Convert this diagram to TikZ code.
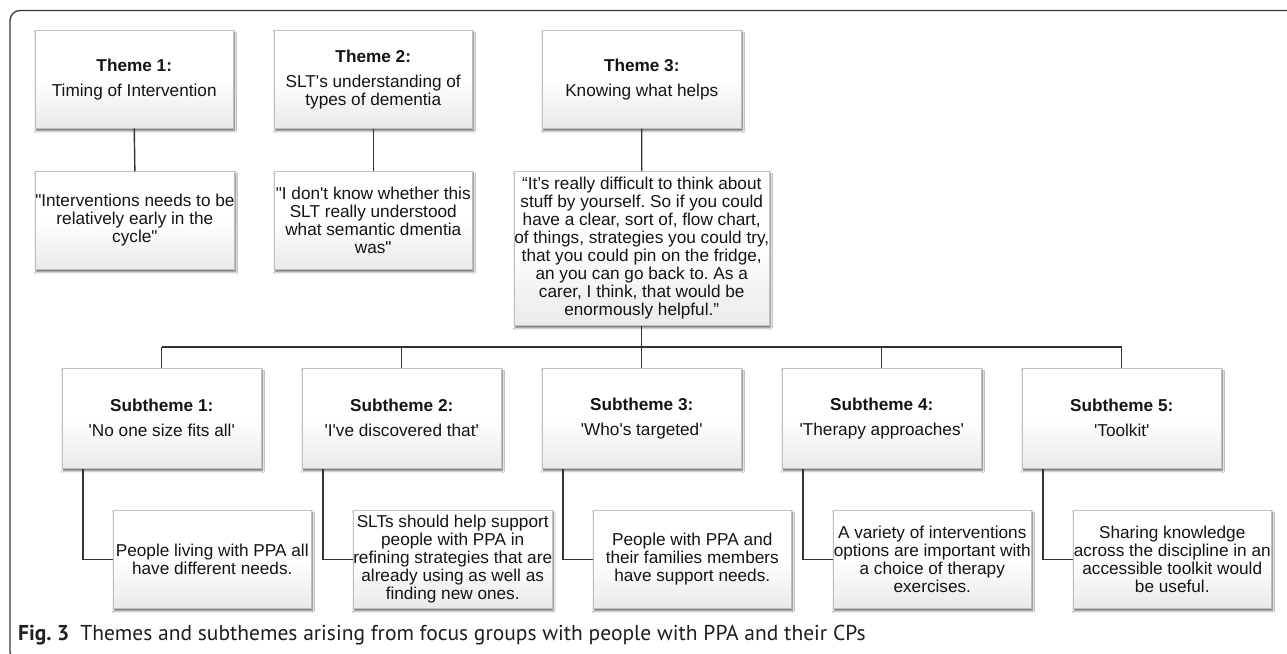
\documentclass[tikz,border=0pt]{standalone}
\usepackage{fontspec}
\setmainfont{Liberation Sans}[Ligatures=TeXOff]
\newfontfamily\capfont{PT Sans}
\usetikzlibrary{shadows.blur}
\frenchspacing
\pgfdeclareverticalshading{boxshade}{100bp}{color(0bp)=(black!17); color(50bp)=(white); color(100bp)=(white)}
\tikzset{
  box/.style={draw=black!25, line width=0.5pt, shade, shading=boxshade,
    inner sep=0pt, align=center, anchor=north west, text=black!92,
    font=\fontsize{17.2}{18}\selectfont,
    blur shadow={shadow xshift=1pt, shadow yshift=-2.5pt, shadow blur steps=6, shadow opacity=60}},
  themebox/.style={box, minimum width=198pt, minimum height=98pt},
  subbox/.style={box, minimum width=199pt, minimum height=100pt},
  conn/.style={draw=black!80, line width=1.4pt},
  frame/.style={draw=black!78, line width=1.3pt, rounded corners=10pt},
}
\begin{document}
\begin{tikzpicture}[x=1pt, y=-1pt]
\useasboundingbox (0,0) rectangle (1287,653);
\fill[white] (0,0) rectangle (1287,653);
\draw[frame] (1300,662) -- (10,662) -- (10,10.5) -- (1300,10.5);

% themes
\node[themebox] (t1) at (35,30) {\textbf{Theme 1:}\\[7pt]Timing of Intervention};
\node[themebox] (t2) at (274,30) {\textbf{Theme 2:}\\[7pt]SLT's understanding of\\types of dementia};
\node[themebox, minimum width=199pt] (t3) at (542,30) {\textbf{Theme 3:}\\[7pt]Knowing what helps};

% quotes
\node[themebox] (q1) at (35,171) {"Interventions needs to be\\relatively early in the\\cycle"};
\node[themebox] (q2) at (274,171) {"I don't know whether this\\SLT really understood\\what semantic dmentia\\was"};
\node[box, minimum width=254pt, minimum height=154pt] (q3) at (514,171) {“It’s really difficult to think about\\stuff by yourself. So if you could\\have a clear, sort of, flow chart,\\of things, strategies you could try,\\that you could pin on the fridge,\\an you can go back to. As a\\carer, I think, that would be\\enormously helpful.”};

% subthemes
\node[subbox] (s1) at (62,368) {\textbf{Subtheme 1:}\\[7pt]'No one size fits all'};
\node[subbox] (s2) at (302,368) {\textbf{Subtheme 2:}\\[7pt]'I've discovered that'};
\node[subbox] (s3) at (542,368) {\textbf{Subtheme 3:}\\[7pt]'Who's targeted'};
\node[subbox] (s4) at (782,368) {\textbf{Subtheme 4:}\\[7pt]'Therapy approaches'};
\node[subbox] (s5) at (1022,368) {\textbf{Subtheme 5:}\\[7pt]'Toolkit'};

% bottom findings
\node[themebox] (b1) at (113,510) {People living with PPA all\\have different needs.};
\node[themebox] (b2) at (353,510) {SLTs should help support\\people with PPA in\\refining strategies that are\\already using as well as\\finding new ones.};
\node[themebox] (b3) at (593,510) {People with PPA and\\their families members\\have support needs.};
\node[themebox] (b4) at (833,510) {A variety of interventions\\options are important with\\a choice of therapy\\exercises.};
\node[themebox] (b5) at (1073,510) {Sharing knowledge\\across the discipline in an\\accessible toolkit would\\be useful.};

% connectors
\coordinate (bus) at (0,347);
\draw[conn] (t1.south) -- (q1.north);
\draw[conn] (t2.south) -- (q2.north);
\draw[conn] (t3.south) -- (q3.north);
\draw[conn] (s1.north |- bus) -- (s5.north |- bus);
\draw[conn] (q3.south) -- (q3.south |- bus);
\foreach \i in {1,...,5}{
  \draw[conn] (s\i.north) -- (s\i.north |- bus);
  \draw[conn] ([xshift=21pt]s\i.south west) |- (b\i.west);
}

% caption
\node[anchor=base west, inner sep=0pt, text=black!88, font=\capfont\fontsize{21.5}{24}\selectfont] (cap) at (18,640)
  {\textbf{Fig. 3}\hspace{11pt}Themes and subthemes arising from focus groups with people with PPA and their CPs};
\end{tikzpicture}
\end{document}
